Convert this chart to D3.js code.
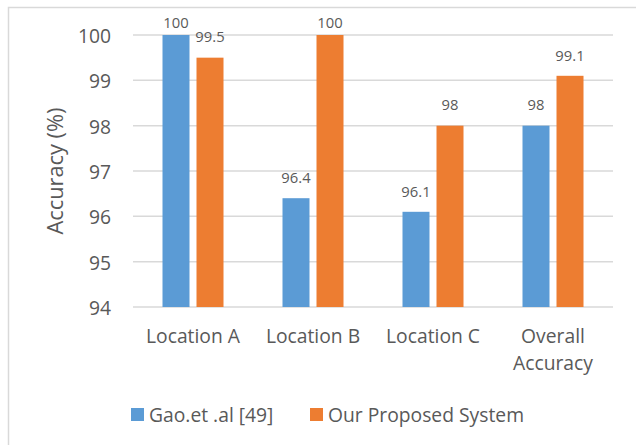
<!DOCTYPE html>
<html>
<head>
<meta charset="utf-8">
<script src="https://cdn.jsdelivr.net/npm/d3@7"></script>
<style>
  html, body { margin: 0; padding: 0; background: #fff; }
  svg { display: block; }
  text { font-family: "Open Sans", Lato, sans-serif; fill: #595959; }
</style>
</head>
<body>
<svg id="chart" width="636" height="445"></svg>
<script>
// Accuracy per location for the two systems
const categories = [["Location A"], ["Location B"], ["Location C"], ["Overall", "Accuracy"]];
const seriesNames = ["Gao.et .al [49]", "Our Proposed System"];
const gaoValues = [100, 96.4, 96.1, 98];
const proposedValues = [99.5, 100, 98, 99.1];
const yTicks = [94, 95, 96, 97, 98, 99, 100];
const colors = ["#5B9BD5", "#ED7D31"];

const svg = d3.select("#chart");

// chart frame
svg.append("path")
  .attr("d", "M8.5,445 V7.5 H636")
  .attr("fill", "none")
  .attr("stroke", "#d9d9d9")
  .attr("stroke-width", 1.5);

const plot = { left: 133, right: 613, top: 35, bottom: 307 };

const x = d3.scaleBand()
  .domain(d3.range(categories.length))
  .range([plot.left, plot.right]);

const xSub = d3.scaleBand()
  .domain(d3.range(seriesNames.length))
  .range([-30.5, 30.5])
  .paddingInner(0.206);

const y = d3.scaleLinear().domain([94, 100]).range([plot.bottom, plot.top]);

// horizontal gridlines
svg.append("g")
  .selectAll("line")
  .data(yTicks)
  .join("line")
  .attr("x1", plot.left)
  .attr("x2", plot.right)
  .attr("y1", d => y(d))
  .attr("y2", d => y(d))
  .attr("stroke", "#d9d9d9")
  .attr("stroke-width", 1.5);

// y tick labels
svg.append("g")
  .selectAll("text")
  .data(yTicks)
  .join("text")
  .attr("x", 111)
  .attr("y", d => y(d) + 1)
  .attr("dy", "0.36em")
  .attr("text-anchor", "end")
  .attr("font-size", 19.3)
  .text(d => d);

// y axis title
svg.append("text")
  .attr("transform", `translate(63,${(plot.top + plot.bottom) / 2}) rotate(-90)`)
  .attr("text-anchor", "middle")
  .attr("font-size", 21.8)
  .text("Accuracy (%)");

// bars
const rows = categories.map((c, i) => [gaoValues[i], proposedValues[i]]);
const groups = svg.append("g")
  .selectAll("g")
  .data(rows)
  .join("g")
  .attr("transform", (d, i) => `translate(${x(i) + x.bandwidth() / 2},0)`);

groups.selectAll("rect")
  .data(d => d.map((v, s) => ({ v, s })))
  .join("rect")
  .attr("x", d => xSub(d.s))
  .attr("width", xSub.bandwidth())
  .attr("y", d => y(d.v))
  .attr("height", d => y(94) - y(d.v))
  .attr("fill", d => colors[d.s]);

// value labels, kept inside the chart area near the top
groups.selectAll("text")
  .data(d => d.map((v, s) => ({ v, s })))
  .join("text")
  .attr("x", d => xSub(d.s) + xSub.bandwidth() / 2)
  .attr("y", d => Math.max(y(d.v) - 15.2, 28.3))
  .attr("text-anchor", "middle")
  .attr("font-size", 14.8)
  .text(d => d.v);

// category labels
const catLabels = svg.append("g")
  .selectAll("text")
  .data(categories)
  .join("text")
  .attr("x", (d, i) => x(i) + x.bandwidth() / 2)
  .attr("y", 343)
  .attr("text-anchor", "middle")
  .attr("font-size", 19.3);
catLabels.selectAll("tspan")
  .data(d => d)
  .join("tspan")
  .attr("x", function () { return this.parentNode.getAttribute("x"); })
  .attr("dy", (d, i) => i === 0 ? 0 : 27)
  .text(d => d);

// legend
const legendX = [131, 310];
const legend = svg.append("g")
  .selectAll("g")
  .data(seriesNames)
  .join("g")
  .attr("transform", (d, i) => `translate(${legendX[i]},408)`);
legend.append("rect")
  .attr("width", 13)
  .attr("height", 13)
  .attr("fill", (d, i) => colors[i]);
legend.append("text")
  .attr("x", 18)
  .attr("y", 13.5)
  .attr("font-size", 19.3)
  .text(d => d);
</script>
</body>
</html>
